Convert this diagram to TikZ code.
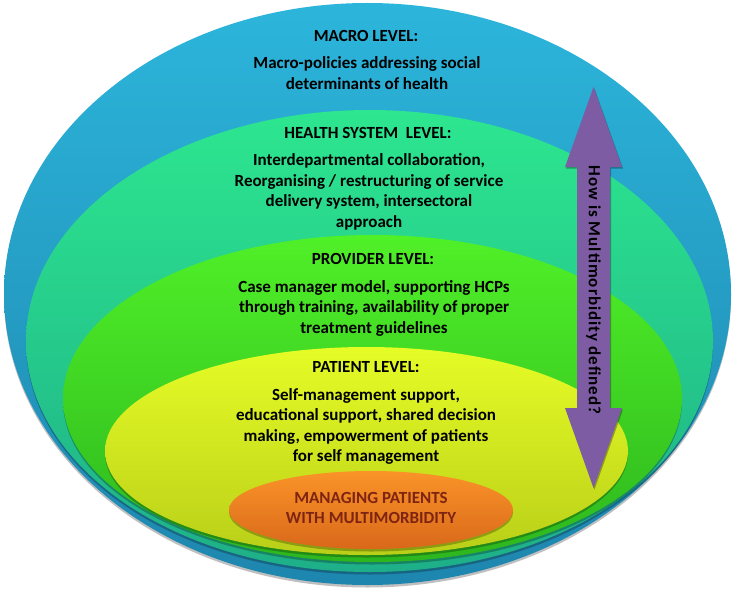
\documentclass[tikz,border=0pt]{standalone}
\usepackage{fontspec}
\setmainfont{Carlito}
\usetikzlibrary{shapes.geometric,shadows}
\definecolor{blueT}{HTML}{2CB5DB}
\definecolor{blueB}{HTML}{1E86AE}
\definecolor{tealT}{HTML}{2DE68F}
\definecolor{tealB}{HTML}{1EAF88}
\definecolor{greenT}{HTML}{50F028}
\definecolor{greenB}{HTML}{2DB61E}
\definecolor{yelT}{HTML}{E6FC26}
\definecolor{yelB}{HTML}{B9CF18}
\definecolor{orT}{HTML}{FA9428}
\definecolor{orB}{HTML}{D9681A}
\definecolor{coreText}{HTML}{7E2412}
\definecolor{arrowCol}{HTML}{7D5CA3}
\begin{document}
\begin{tikzpicture}[x=1pt,y=-1pt,
  layer/.style={ellipse, inner sep=0pt, draw=none,
    drop shadow={shadow xshift=0pt, shadow yshift=-2.5pt, opacity=0.25, fill=black}},
  head/.style={font=\bfseries\fontsize{17}{20.5}\selectfont, text=black, align=center, inner sep=0pt},
  body/.style={font=\bfseries\fontsize{17}{20.5}\selectfont, text=black, align=center, inner sep=0pt},
  coretext/.style={font=\bfseries\fontsize{17}{20}\selectfont, text=coreText, align=center, inner sep=0pt}]
\useasboundingbox[fill=white] (0,0) rectangle (735,596);
% nested levels
\node[layer, minimum width=727pt, minimum height=582pt, top color=blueT, bottom color=blueB] (macro) at (367.5,294) {};
\node[layer, minimum width=687pt, minimum height=462pt, top color=tealT, bottom color=tealB] (health) at (369.5,341) {};
\node[layer, minimum width=619pt, minimum height=327pt, top color=greenT, bottom color=greenB] (provider) at (372.5,398.5) {};
\node[layer, minimum width=523pt, minimum height=208pt, top color=yelT, bottom color=yelB] (patient) at (366.5,451) {};
\node[layer, minimum width=284pt, minimum height=78pt, top color=orT, bottom color=orB] (core) at (371,510) {};
% texts
\node[head] (macroH) at (366,36) {MACRO LEVEL:};
\node[body] (macroT) at (367,73) {Macro-policies addressing social\\determinants of health};
\node[head] (healthH) at (368,133) {HEALTH SYSTEM\ \ LEVEL:};
\node[body] (healthT) at (369,192) {Interdepartmental collaboration,\\Reorganising / restructuring of service\\delivery system, intersectoral\\approach};
\node[head] (provH) at (373,259) {PROVIDER LEVEL:};
\node[body] (provT) at (374,308) {Case manager model, supporting HCPs\\through training, availability of proper\\treatment guidelines};
\node[head] (patH) at (366,367) {PATIENT LEVEL:};
\node[body] (patT) at (366,426.5) {Self-management support,\\educational support, shared decision\\making, empowerment of patients\\for self management};
\node[coretext] (coreT) at (371,508) {MANAGING PATIENTS\\WITH MULTIMORBIDITY};
% double arrow
\fill[arrowCol, drop shadow={shadow xshift=1pt, shadow yshift=-1.5pt, opacity=0.3, fill=black}]
  (593.5,87) -- (622,167) -- (610,167) -- (610,408) -- (622,408) -- (593.5,488)
  -- (565,408) -- (577,408) -- (577,167) -- (565,167) -- cycle;
\node[rotate=-90, font=\bfseries\fontsize{17}{17}\selectfont\addfontfeatures{LetterSpace=6}, text=black, inner sep=0pt] (question) at (593.5,290) {How is Multimorbidity defined?};
\end{tikzpicture}
\end{document}
